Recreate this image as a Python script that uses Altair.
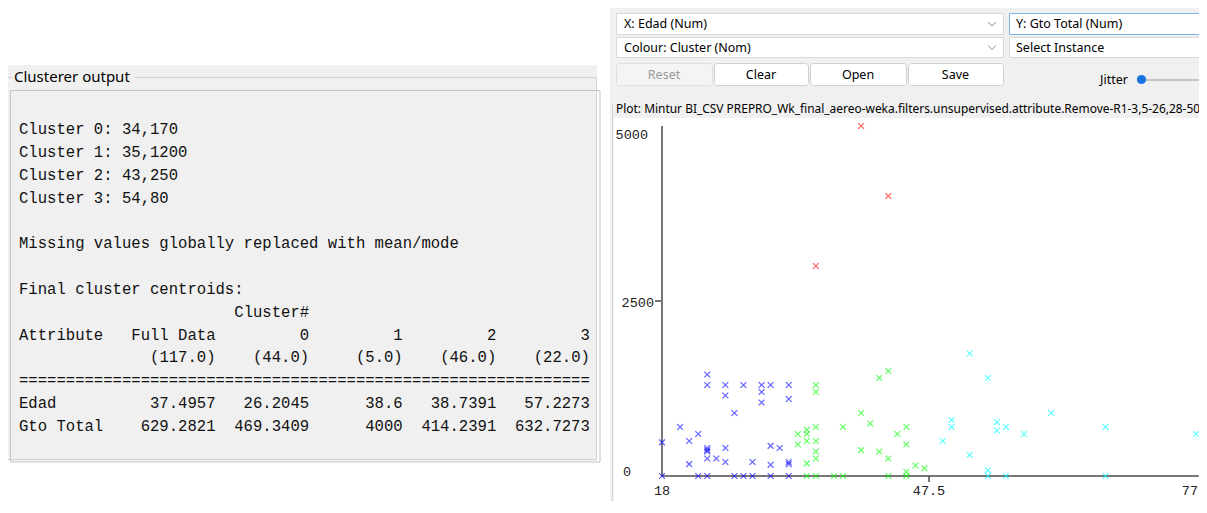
import altair as alt
import pandas as pd

# ---------------- data ----------------
cluster_ids = ["0", "1", "2", "3"]
seed_edad = [34, 35, 43, 54]
seed_gto = [170, 1200, 250, 80]
full_size = "(117.0)"
cluster_sizes = ["(44.0)", "(5.0)", "(46.0)", "(22.0)"]
attr_names = ["Edad", "Gto Total"]
full_means = ["37.4957", "629.2821"]
centroid_edad = ["26.2045", "38.6", "38.7391", "57.2273"]
centroid_gto = ["469.3409", "4000", "414.2391", "632.7273"]

# cluster 0 (blue)
c0_edad = [18, 18, 20, 21, 21, 22, 22, 23, 23, 23, 23, 23, 23, 23, 24, 25, 25, 25, 25,
           26, 26, 27, 27, 28, 28, 29, 29, 29, 30, 30, 30, 30, 31, 32, 32, 32, 32, 32]
c0_gto = [480, 0, 700, 500, 170, 600, 0, 1450, 1300, 400, 370, 350, 250, 0, 250, 1300, 1150, 400, 200,
          900, 0, 1300, 0, 200, 0, 1300, 1200, 1050, 1300, 430, 160, 0, 400, 1300, 1100, 200, 170, 0]
# cluster 1 (red)
c1_edad = [35, 40, 43]
c1_gto = [3000, 5000, 4000]
# cluster 2 (green)
c2_edad = [33, 33, 34, 34, 34, 34, 34, 35, 35, 35, 35, 35, 35, 35, 37, 38, 38, 40, 40, 41,
           42, 42, 43, 43, 43, 44, 45, 45, 45, 45, 46, 47]
c2_gto = [600, 450, 660, 600, 500, 180, 0, 1300, 1200, 700, 500, 350, 250, 0, 0, 700, 0, 900, 370, 750,
          1400, 350, 1500, 250, 0, 600, 700, 450, 60, 0, 150, 110]
# cluster 3 (cyan)
c3_edad = [49, 50, 50, 52, 52, 54, 54, 54, 55, 55, 56, 56, 58, 61, 67, 67, 77]
c3_gto = [500, 800, 700, 1750, 300, 1400, 80, 0, 770, 650, 700, 0, 600, 900, 700, 0, 600]

cluster_colors = ["#0000ff", "#ff0000", "#00ff00", "#00ffff"]

x_tick_values = [18, 47.5, 77]
x_tick_labels = ["18", "47.5", "77"]
y_tick_values = [0, 2500, 5000]
y_tick_labels = ["0", "2500", "5000"]

# ---------------- helpers ----------------
M = 8  # page margin
UI = "Segoe UI, Noto Sans, sans-serif"
MONO = "Courier New, Liberation Mono, monospace"
MONO_SIZE = 15.6
CHAR_W = 0.6 * MONO_SIZE


def px(v):
    return v - M


def one():
    return alt.Chart(alt.Data(values=[{"k": 0}]))


def box(x1, y1, x2, y2, fill="transparent", stroke=None, sw=1, r=0):
    kw = dict(fill=fill, cornerRadius=r)
    if stroke:
        kw["stroke"] = stroke
        kw["strokeWidth"] = sw
    return one().mark_rect(**kw).encode(
        x=alt.value(px(x1)), x2=alt.value(px(x2)),
        y=alt.value(px(y1)), y2=alt.value(px(y2)))


def seg(x1, y1, x2, y2, color, sw=1):
    return one().mark_rule(color=color, strokeWidth=sw).encode(
        x=alt.value(px(x1)), x2=alt.value(px(x2)),
        y=alt.value(px(y1)), y2=alt.value(px(y2)))


def label(t, x, y, size=12.5, font=UI, color="#000", align="left"):
    return one().mark_text(text=t, align=align, baseline="middle", font=font,
                           fontSize=size, color=color).encode(
        x=alt.value(px(x)), y=alt.value(px(y)))


def chevron(x, y):
    return [seg(x - 4, y - 2, x, y + 2, "#8a8a8a"), seg(x, y + 2, x + 4, y - 2, "#8a8a8a")]


# ---------------- left panel (clusterer output) ----------------
NB = "\u00a0"
lines = [f"Cluster {c}: {e},{g}" for c, e, g in zip(cluster_ids, seed_edad, seed_gto)]
lines += ["", "Missing values globally replaced with mean/mode", "", "Final cluster centroids:"]
lines.append(" " * 23 + "Cluster#")
lines.append(f"{'Attribute':<12}{'Full Data':>9}" + "".join(f"{c:>10}" for c in cluster_ids))
lines.append(f"{'':<12}{full_size:>9}" + "".join(f"{s:>10}" for s in cluster_sizes))
lines.append("=" * 61)
lines.append(f"{attr_names[0]:<12}{full_means[0]:>9}" + "".join(f"{v:>10}" for v in centroid_edad))
lines.append(f"{attr_names[1]:<12}{full_means[1]:>9}" + "".join(f"{v:>10}" for v in centroid_gto))

rows, cols, texts = [], [], []
for i, l in enumerate(lines):
    s = l.lstrip(" ")
    if not s:
        continue
    rows.append(i)
    cols.append(len(l) - len(s))
    texts.append(s.replace(" ", NB))
text_df = pd.DataFrame({"row": rows, "col": cols, "line": texts})

panel_text = alt.Chart(text_df).mark_text(
    align="left", baseline="middle", font=MONO, fontSize=MONO_SIZE, color="#111"
).encode(
    x=alt.X("col:Q", scale=alt.Scale(domain=[0, 61], range=[px(19), px(19) + 61 * CHAR_W], nice=False, zero=False), axis=None),
    y=alt.Y("row:Q", scale=alt.Scale(domain=[0, 13], range=[px(129), px(426)], nice=False, zero=False), axis=None),
    text="line:N",
)

left_chrome = [
    box(6, 65, 597, 461, fill="#f0f0f0"),
    box(6.5, 77.5, 596.5, 459.5, stroke="#d3d3d3"),
    box(10.5, 90.5, 600, 462, stroke="#c4c4c4"),
    box(12, 68, 134, 86, fill="#f0f0f0"),
    label("Clusterer output", 14, 77, size=15),
]

# ---------------- right panel chrome ----------------
right_chrome = [
    box(610, 8, 1210, 520, fill="#f0f0f0"),
    box(614, 118, 1210, 520, fill="#ffffff"),
    seg(612.5, 104, 612.5, 520, "#d5d5d5"),
    # combo boxes
    box(616.5, 13.5, 1003.5, 34.5, fill="#ffffff", stroke="#d9d9d9"),
    box(1009.5, 13.5, 1215, 34.5, fill="#ffffff", stroke="#7fb2e6"),
    box(616.5, 37.5, 1003.5, 57.5, fill="#ffffff", stroke="#d9d9d9"),
    box(1009.5, 37.5, 1215, 57.5, fill="#ffffff", stroke="#d9d9d9"),
    label("X: Edad (Num)", 624, 24),
    label("Y: Gto Total (Num)", 1016, 24),
    label("Colour: Cluster (Nom)", 624, 47.5),
    label("Select Instance", 1016, 47.5),
    *chevron(992, 24),
    *chevron(992, 47.5),
    # buttons
    box(616.5, 63.5, 712.5, 85.5, fill="#f4f4f4", stroke="#dedede", r=3),
    box(714.5, 63.5, 808.5, 85.5, fill="#ffffff", stroke="#d0d0d0", r=3),
    box(810.5, 63.5, 906.5, 85.5, fill="#ffffff", stroke="#d0d0d0", r=3),
    box(908.5, 63.5, 1003.5, 85.5, fill="#ffffff", stroke="#d0d0d0", r=3),
    label("Reset", 664, 74.5, color="#9a9a9a", align="center"),
    label("Clear", 761, 74.5, align="center"),
    label("Open", 858, 74.5, align="center"),
    label("Save", 955.5, 74.5, align="center"),
    # jitter slider
    label("Jitter", 1128, 80, align="right"),
    seg(1146, 80, 1210, 80, "#b5b5b5", sw=1.5),
    one().mark_circle(size=85, color="#1a74e0", opacity=1).encode(
        x=alt.value(px(1141.5)), y=alt.value(px(79.5))),
    label("Plot: Mintur BI_CSV PREPRO_Wk_final_aereo-weka.filters.unsupervised.attribute.Remove-R1-3,5-26,28-50",
          616, 109, size=11.95),
]

# ---------------- scatter ----------------
XS = alt.Scale(domain=[18, 77], range=[px(662), px(1196)], nice=False, zero=False)
YS = alt.Scale(domain=[0, 5000], range=[px(476), px(126)], nice=False, zero=False)

frames = []
for cid, ed, gt in zip(cluster_ids, [c0_edad, c1_edad, c2_edad, c3_edad], [c0_gto, c1_gto, c2_gto, c3_gto]):
    frames.append(pd.DataFrame({"Edad": ed, "Gto": gt, "Cluster": cid}))
order = [0, 2, 3, 1]
pts_df = pd.concat([frames[i] for i in order], ignore_index=True)

points = alt.Chart(pts_df).mark_point(
    shape="M-1,-1L1,1M-1,1L1,-1", filled=False, size=34, strokeWidth=1.3, opacity=0.6
).encode(
    x=alt.X("Edad:Q", scale=XS, axis=None),
    y=alt.Y("Gto:Q", scale=YS, axis=None),
    color=alt.Color("Cluster:N", scale=alt.Scale(domain=cluster_ids, range=cluster_colors), legend=None),
)

axis_df = pd.DataFrame({"x1": [18, 18], "x2": [18, 77.3], "y1": [0, 0], "y2": [5000, 0]})
axis_lines = alt.Chart(axis_df).mark_rule(color="#4a4a4a", strokeWidth=1.5).encode(
    x=alt.X("x1:Q", scale=XS, axis=None), x2="x2:Q",
    y=alt.Y("y1:Q", scale=YS, axis=None), y2="y2:Q",
)

ytick = alt.Chart(pd.DataFrame({"v": [y_tick_values[1]]})).mark_rule(color="#4a4a4a", strokeWidth=1.5).encode(
    y=alt.Y("v:Q", scale=YS, axis=None), x=alt.value(px(655)), x2=alt.value(px(661)))
xtick = alt.Chart(pd.DataFrame({"v": [x_tick_values[1]]})).mark_rule(color="#4a4a4a", strokeWidth=1.5).encode(
    x=alt.X("v:Q", scale=XS, axis=None), y=alt.value(px(476)), y2=alt.value(px(482)))

xlab = alt.Chart(pd.DataFrame({"v": x_tick_values[:2], "lab": x_tick_labels[:2]})).mark_text(
    align="center", baseline="middle", font=MONO, fontSize=13.5, color="#222"
).encode(x=alt.X("v:Q", scale=XS, axis=None), y=alt.value(px(491)), text="lab:N")
xlab_last = alt.Chart(pd.DataFrame({"v": x_tick_values[2:], "lab": x_tick_labels[2:]})).mark_text(
    align="right", baseline="middle", dx=2, font=MONO, fontSize=13.5, color="#222"
).encode(x=alt.X("v:Q", scale=XS, axis=None), y=alt.value(px(491)), text="lab:N")

ylab_layers = []
for v, lab, xx, al, dy in zip(y_tick_values, y_tick_labels, [623, 654, 648], ["left", "right", "right"], [-4, 2, 9]):
    ylab_layers.append(
        alt.Chart(pd.DataFrame({"v": [v], "lab": [lab]})).mark_text(
            align=al, baseline="middle", dy=dy, font=MONO, fontSize=13.5, color="#222"
        ).encode(y=alt.Y("v:Q", scale=YS, axis=None), x=alt.value(px(xx)), text="lab:N")
    )

scatter = alt.layer(axis_lines, ytick, xtick, xlab, xlab_last, *ylab_layers, points)

chart = alt.layer(
    *left_chrome, *right_chrome, scatter, panel_text
).resolve_scale(
    x="independent", y="independent"
).properties(
    width=1191, height=493, autosize=alt.AutoSizeParams(type="none"), padding=0, background="white"
).configure_view(stroke=None)

chart.save("out.html", embed_options={"renderer": "svg", "actions": False})
